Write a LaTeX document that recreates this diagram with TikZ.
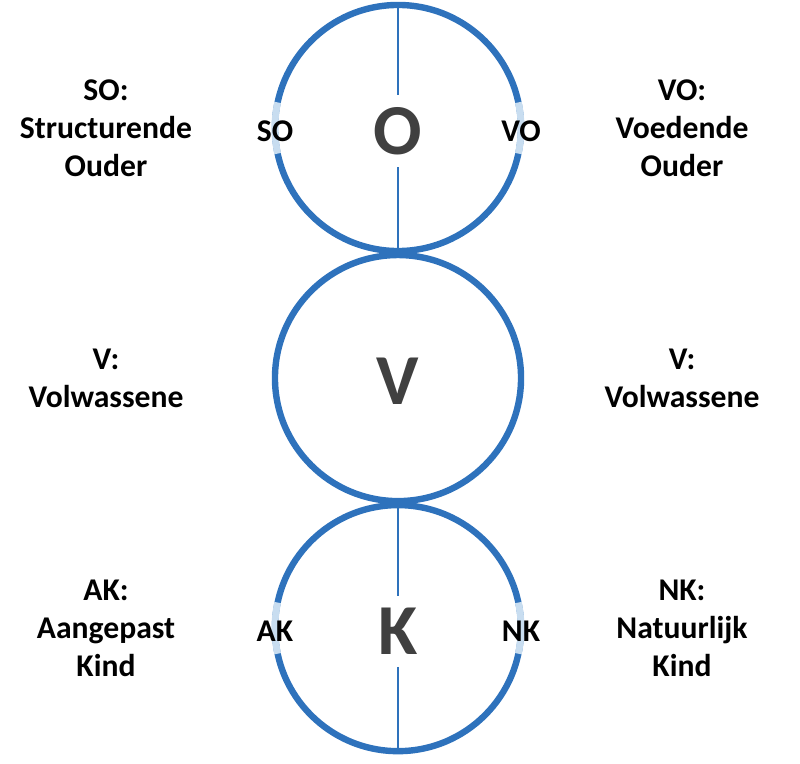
\documentclass[tikz,border=0pt]{standalone}
\usepackage{fontspec}
\setmainfont{Carlito}
\usetikzlibrary{positioning}
\definecolor{egoBlue}{RGB}{46,114,188}
\definecolor{egoLight}{RGB}{200,221,240}
\definecolor{egoGrey}{RGB}{64,64,64}
\tikzset{
    egocircle/.style={
        circle,
        draw=egoBlue,
        line width=0.16cm,
        minimum size=6.15cm,
        inner sep=0pt,
        outer sep=0pt
    },
    egoletter/.style={
        font=\fontsize{51}{51}\selectfont\bfseries,
        text=egoGrey,
        inner sep=0.3cm,
        yshift=-0.08cm
    },
    edgelabel/.style={font=\fontsize{22.5}{27}\selectfont\bfseries, inner sep=0pt, yshift=-0.07cm},
    sidetext/.style={font=\fontsize{22.5}{27}\selectfont\bfseries, align=center, inner sep=0pt},
    splitline/.style={draw=egoBlue, line width=0.05cm},
    lightarc/.style={draw=egoLight, line width=0.17cm}
}

\begin{document}
\begin{tikzpicture}[x=0.025cm, y=0.025cm]
    \useasboundingbox (0,0) rectangle (800,763);
    \coordinate (leftcol) at (106,0);
    \coordinate (rightcol) at (682,0);

    \node[egocircle] (ouder) at (398,635) {};
    \node[egocircle, below=0.1cm of ouder] (volw) {};
    \node[egocircle, below=0.1cm of volw] (kind) {};

    \node[egoletter] (letO) at (ouder.center) {O};
    \node[egoletter] (letV) at (volw.center) {V};
    \node[egoletter] (letK) at (kind.center) {K};

    \draw[splitline] (ouder.north) -- (letO.north);
    \draw[splitline] (letO.south) -- (ouder.south);
    \draw[splitline] (kind.north) -- (letK.north);
    \draw[splitline] (letK.south) -- (kind.south);

    \draw[lightarc] (ouder.168) arc[start angle=168, end angle=192, radius=3.075cm];
    \draw[lightarc] (ouder.-12) arc[start angle=-12, end angle=12, radius=3.075cm];
    \draw[lightarc] (kind.168) arc[start angle=168, end angle=192, radius=3.075cm];
    \draw[lightarc] (kind.-12) arc[start angle=-12, end angle=12, radius=3.075cm];

    \node[edgelabel] (soTag) at (ouder.west) {SO};
    \node[edgelabel] (voTag) at (ouder.east) {VO};
    \node[edgelabel] (akTag) at (kind.west) {AK};
    \node[edgelabel] (nkTag) at (kind.east) {NK};

    \node[sidetext] (soText) at (ouder.center -| leftcol) {SO:\\Structurende\\Ouder};
    \node[sidetext] (voText) at (ouder.center -| rightcol) {VO:\\Voedende\\Ouder};
    \node[sidetext] (vlText) at (volw.center -| leftcol) {V:\\Volwassene};
    \node[sidetext] (vrText) at (volw.center -| rightcol) {V:\\Volwassene};
    \node[sidetext] (akText) at (kind.center -| leftcol) {AK:\\Aangepast\\Kind};
    \node[sidetext] (nkText) at (kind.center -| rightcol) {NK:\\Natuurlijk\\Kind};
\end{tikzpicture}
\end{document}
